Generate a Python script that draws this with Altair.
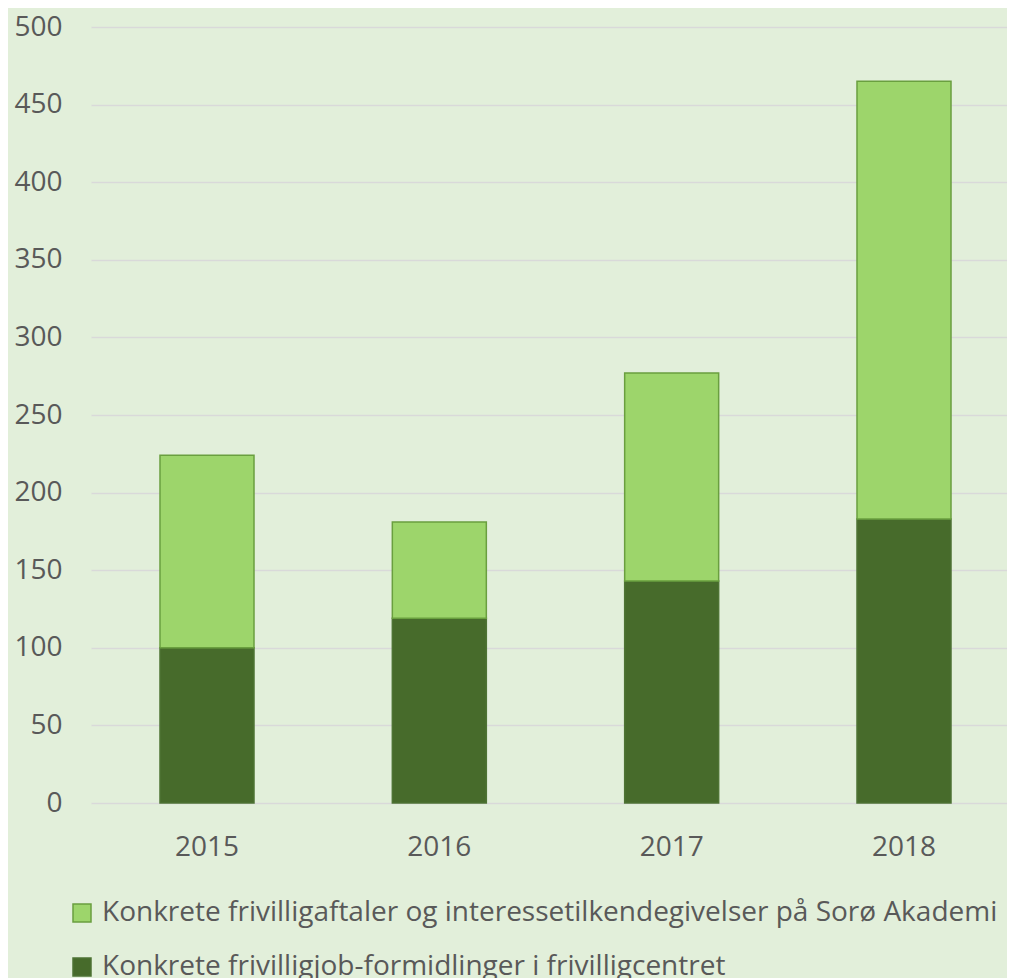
import altair as alt
import pandas as pd

years = ["2015", "2016", "2017", "2018"]
series_light = "Konkrete frivilligaftaler og interessetilkendegivelser på Sorø Akademi"
series_dark = "Konkrete frivilligjob-formidlinger i frivilligcentret"
dark_values = [100, 119, 143, 183]
light_values = [124, 62, 134, 282]

rows = []
for y, d, l in zip(years, dark_values, light_values):
    rows.append({"year": y, "series": series_dark, "value": d, "ord": 0})
    rows.append({"year": y, "series": series_light, "value": l, "ord": 1})
df = pd.DataFrame(rows)

FONT = "Open Sans"
TXT = "#595959"
FS = 28
domain = [series_light, series_dark]

legend_kw = dict(
    title=None, orient="none", legendX=-23, legendY=872, direction="vertical",
    symbolType="square", symbolSize=324, symbolStrokeWidth=1.5,
    labelFont=FONT, labelFontSize=FS, labelColor=TXT, rowPadding=26,
    labelOffset=6, labelLimit=1000,
)

chart = alt.Chart(df).mark_bar(strokeWidth=1.5).encode(
    x=alt.X("year:N", title=None, sort=years,
            scale=alt.Scale(paddingInner=0.5954, paddingOuter=0.269, align=0.552),
            axis=alt.Axis(labelAngle=0, ticks=False, domain=False, labelPadding=30,
                          labelFont=FONT, labelFontSize=FS, labelColor=TXT)),
    y=alt.Y("value:Q", title=None, stack="zero",
            scale=alt.Scale(domain=[0, 500], nice=False),
            axis=alt.Axis(values=list(range(0, 501, 50)), ticks=False, domain=False,
                          labelPadding=29, labelFont=FONT, labelFontSize=FS,
                          labelColor=TXT, gridColor="#D9D9D9", gridWidth=1.5)),
    color=alt.Color("series:N", scale=alt.Scale(domain=domain, range=["#9DD56B", "#476B2B"]),
                    legend=alt.Legend(**legend_kw)),
    stroke=alt.Stroke("series:N", scale=alt.Scale(domain=domain, range=["#6A9F3F", "#4E7334"]),
                      legend=alt.Legend(**legend_kw)),
    order=alt.Order("ord:Q"),
).properties(
    width=916, height=776,
    autosize=alt.AutoSizeParams(type="none"),
    padding={"left": 83, "top": 19, "right": 0, "bottom": 190},
    background="#E2EFDA",
).configure_view(stroke=None)

chart.save("out.html", embed_options={"renderer": "svg", "actions": False})
